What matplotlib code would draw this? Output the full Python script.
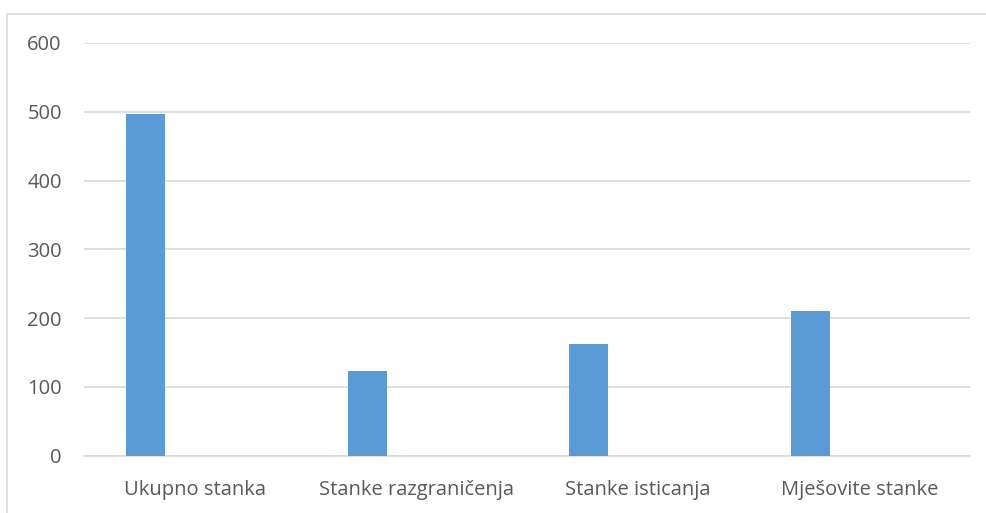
import matplotlib.pyplot as plt
import matplotlib.patches as mpatches
import numpy as np

categories = ['Ukupno stanka', 'Stanke razgraničenja', 'Stanke isticanja', 'Mješovite stanke']
values = [497, 123, 162, 210]

plt.rcParams['font.family'] = ['Open Sans', 'DejaVu Sans']

fig = plt.figure(figsize=(9.87, 5.13), dpi=100)
ax = fig.add_axes([84 / 987, 1 - 455.5 / 513, 886 / 987, (455.5 - 43) / 513])

x = np.arange(len(categories))
ax.bar(x - 0.222, values, width=0.176, color='#5B9BD5', zorder=3)

ax.set_xlim(-0.5, len(categories) - 0.5)
ax.set_ylim(0, 600)
ax.set_yticks(range(0, 601, 100))
ax.set_xticks(x)
ax.set_xticklabels(categories)
ax.grid(axis='y', color='#D9D9D9', linewidth=1.2, zorder=0)
for s in ['top', 'right', 'left']:
    ax.spines[s].set_visible(False)
ax.spines['bottom'].set_color('#D9D9D9')
ax.spines['bottom'].set_linewidth(1.2)
ax.tick_params(axis='both', length=0, labelsize=14.5, colors='#595959')
ax.tick_params(axis='y', pad=16)
ax.tick_params(axis='x', pad=18)

# outer chart frame
frame = mpatches.Rectangle((7 / 987, -0.05), 1.1, 1 - 13.7 / 513 + 0.05,
                           transform=fig.transFigure, fill=False,
                           edgecolor='#D9D9D9', linewidth=1.2)
fig.patches.append(frame)

fig.savefig('out.png', dpi=100)
